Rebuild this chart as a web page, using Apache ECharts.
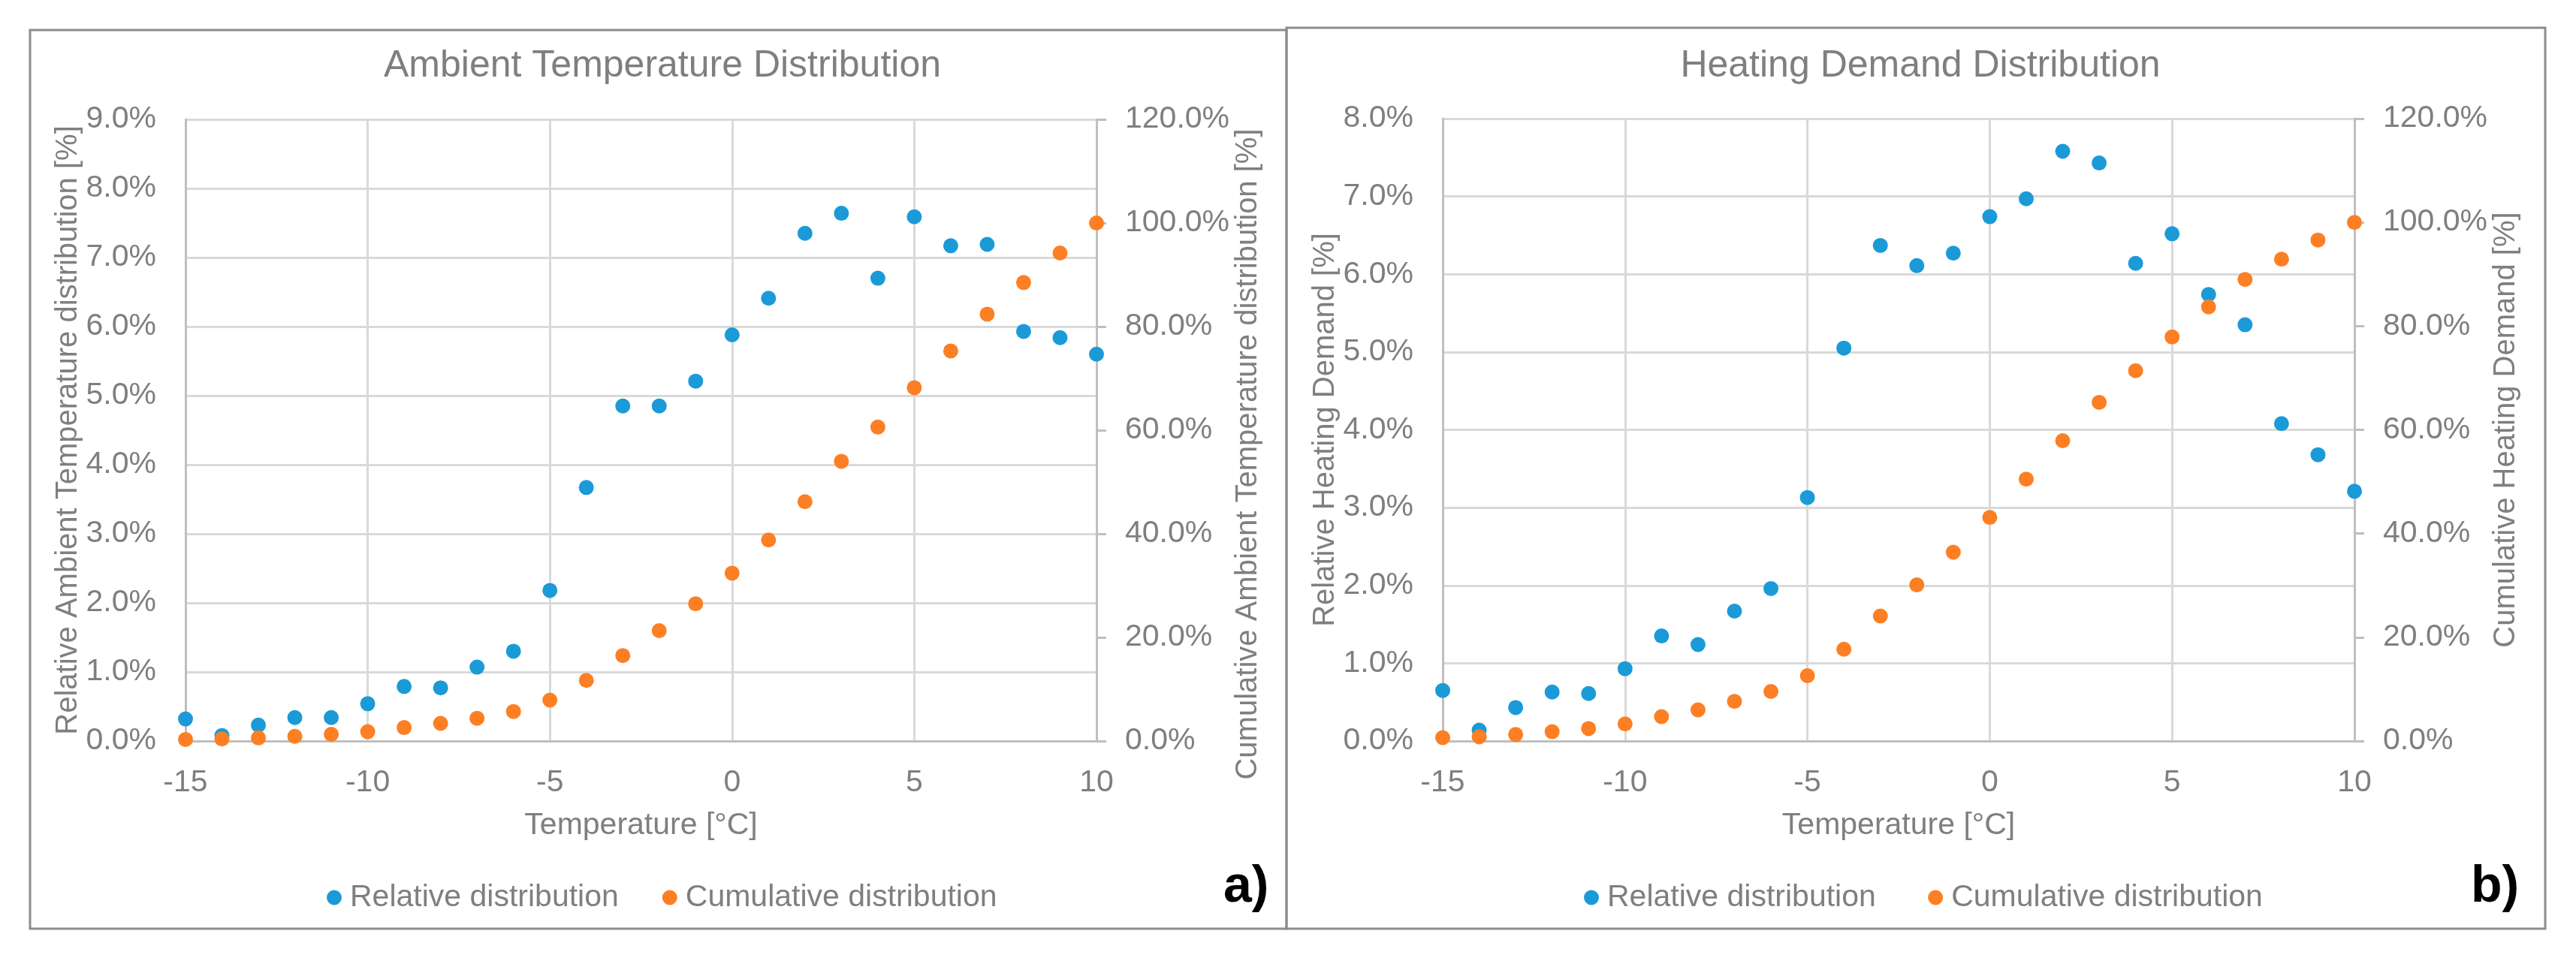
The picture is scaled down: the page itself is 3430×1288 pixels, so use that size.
<!DOCTYPE html>
<html>
<head>
<meta charset="utf-8">
<script src="https://cdn.jsdelivr.net/npm/echarts@6/dist/echarts.min.js"></script>
<style>
html,body{margin:0;padding:0;background:#fff;}
#c{width:3430px;height:1288px;}
</style>
</head>
<body>
<div id="c"></div>
<script>
// ---- data ----
const temps = [-15,-14,-13,-12,-11,-10,-9,-8,-7,-6,-5,-4,-3,-2,-1,0,1,2,3,4,5,6,7,8,9,10];
const ambientRelative = [0.32,0.08,0.23,0.34,0.34,0.54,0.79,0.77,1.07,1.30,2.18,3.67,4.85,4.85,5.21,5.88,6.41,7.35,7.64,6.70,7.59,7.17,7.19,5.93,5.84,5.60];
const ambientCumulative = [0.3,0.4,0.6,0.9,1.3,1.8,2.6,3.4,4.4,5.7,7.9,11.7,16.5,21.3,26.5,32.4,38.8,46.2,54.0,60.6,68.2,75.3,82.4,88.5,94.2,100.0];
const heatRelative = [0.65,0.14,0.43,0.63,0.61,0.93,1.35,1.24,1.67,1.96,3.13,5.05,6.37,6.11,6.27,6.74,6.97,7.58,7.43,6.14,6.52,5.74,5.35,4.08,3.68,3.21];
const heatCumulative = [0.65,0.8,1.25,1.8,2.4,3.3,4.7,6.0,7.65,9.55,12.6,17.7,24.1,30.1,36.4,43.1,50.5,57.9,65.3,71.4,77.9,83.7,89.0,92.9,96.6,100.0];
const titles = ['Ambient Temperature Distribution', 'Heating Demand Distribution'];
const xName = 'Temperature [°C]';
const leftNames = ['Relative Ambient Temperature distribution [%]', 'Relative Heating Demand [%]'];
const rightNames = ['Cumulative Ambient Temperature distribution [%]', 'Cumulative Heating Demand [%]'];
const seriesNames = ['Relative distribution', 'Cumulative distribution'];
const panelLabels = ['a)', 'b)'];
const xTicks = {min: -15, max: 10, interval: 5};
const leftTicks = [{min: 0, max: 9, interval: 1}, {min: 0, max: 8, interval: 1}];
const rightTicks = {min: 0, max: 120, interval: 20};

// ---- style ----
const FONT = 'Liberation Sans, Arial, sans-serif';
const TXT = '#7f7f7f';
const GRID = '#d9d9d9';
const AXIS = '#bfbfbf';
const BLUE = '#1b9ad8';
const ORANGE = '#fd7f24';

const grids = [
  {left: 247, top: 159, width: 1213, height: 828},
  {left: 1921, top: 158, width: 1214, height: 829}
];
const titleX = [877, 2552];
const legendX = [430, 2104];
const panels = [
  {x: 40, y: 40, w: 1673, h: 1197},
  {x: 1713, y: 37, w: 1676, h: 1200}
];
const labelPos = [[1629, 1148], [3290, 1148]];
const rightNamePad = [[0, 64, 0, 0], [0, 0, 0, 0]];

function pct(v) { return v.toFixed(1) + '%'; }

const option = {
  backgroundColor: '#fff',
  animation: false,
  textStyle: {fontFamily: FONT},
  title: titles.map((t, i) => ({
    text: t, left: titleX[i], top: 58, textAlign: 'center',
    textStyle: {fontFamily: FONT, fontSize: 50, fontWeight: 'normal', color: TXT}
  })),
  legend: [0, 1].map(i => ({
    left: legendX[i], top: 1170, orient: 'horizontal',
    itemWidth: 20, itemHeight: 20, itemGap: 58, icon: 'circle',
    textStyle: {fontFamily: FONT, fontSize: 41, color: TXT, padding: [0, 0, 0, 6]},
    data: seriesNames.map(n => n + (i ? ' ' : '')),
  })),
  grid: grids,
  xAxis: [0, 1].map(i => ({
    type: 'value', gridIndex: i, min: xTicks.min, max: xTicks.max, interval: xTicks.interval,
    name: xName, nameLocation: 'middle', nameGap: 92,
    nameTextStyle: {fontFamily: FONT, fontSize: 41, color: TXT},
    axisLine: {show: true, onZero: false, lineStyle: {color: AXIS, width: 3}},
    axisTick: {show: false},
    axisLabel: {fontFamily: FONT, fontSize: 41, color: TXT, margin: 35},
    splitLine: {show: true, lineStyle: {color: GRID, width: 3}}
  })),
  yAxis: [
    ...[0, 1].map(i => ({
      type: 'value', gridIndex: i, position: 'left',
      min: leftTicks[i].min, max: leftTicks[i].max, interval: leftTicks[i].interval,
      name: leftNames[i], nameLocation: 'middle', nameGap: 132,
      nameTextStyle: {fontFamily: FONT, fontSize: 40, color: TXT},
      axisLine: {show: true, onZero: false, lineStyle: {color: AXIS, width: 3}},
      axisTick: {show: false},
      axisLabel: {fontFamily: FONT, fontSize: 41, color: TXT, margin: 39, formatter: pct},
      splitLine: {show: true, lineStyle: {color: GRID, width: 3}}
    })),
    ...[0, 1].map(i => ({
      type: 'value', gridIndex: i, position: 'right',
      min: rightTicks.min, max: rightTicks.max, interval: rightTicks.interval,
      name: rightNames[i], nameLocation: 'middle', nameGap: 182,
      nameTextStyle: {fontFamily: FONT, fontSize: 40, color: TXT, padding: rightNamePad[i]},
      axisLine: {show: true, onZero: false, lineStyle: {color: AXIS, width: 3}},
      axisTick: {show: true, inside: false, length: 13, lineStyle: {color: AXIS, width: 3}},
      axisLabel: {fontFamily: FONT, fontSize: 41, color: TXT, margin: 38, formatter: pct},
      splitLine: {show: false}
    }))
  ],
  series: [
    {name: seriesNames[0], type: 'scatter', xAxisIndex: 0, yAxisIndex: 0, symbolSize: 20,
     itemStyle: {color: BLUE, opacity: 1}, data: temps.map((t, k) => [t, ambientRelative[k]])},
    {name: seriesNames[1], type: 'scatter', xAxisIndex: 0, yAxisIndex: 2, symbolSize: 20,
     itemStyle: {color: ORANGE, opacity: 1}, data: temps.map((t, k) => [t, ambientCumulative[k]])},
    {name: seriesNames[0] + ' ', type: 'scatter', xAxisIndex: 1, yAxisIndex: 1, symbolSize: 20,
     itemStyle: {color: BLUE, opacity: 1}, data: temps.map((t, k) => [t, heatRelative[k]])},
    {name: seriesNames[1] + ' ', type: 'scatter', xAxisIndex: 1, yAxisIndex: 3, symbolSize: 20,
     itemStyle: {color: ORANGE, opacity: 1}, data: temps.map((t, k) => [t, heatCumulative[k]])}
  ],
  graphic: [
    ...panels.map(p => ({
      type: 'rect', silent: true, z: -10,
      shape: {x: p.x, y: p.y, width: p.w, height: p.h},
      style: {fill: 'none', stroke: '#8c8c8c', lineWidth: 3}
    })),
    ...panelLabels.map((t, i) => ({
      type: 'text', x: labelPos[i][0], y: labelPos[i][1],
      style: {text: t, font: 'bold 68px ' + FONT, fill: '#000'}
    }))
  ]
};

const chart = echarts.init(document.getElementById('c'), null, {renderer: 'canvas'});
chart.setOption(option);
</script>
</body>
</html>
